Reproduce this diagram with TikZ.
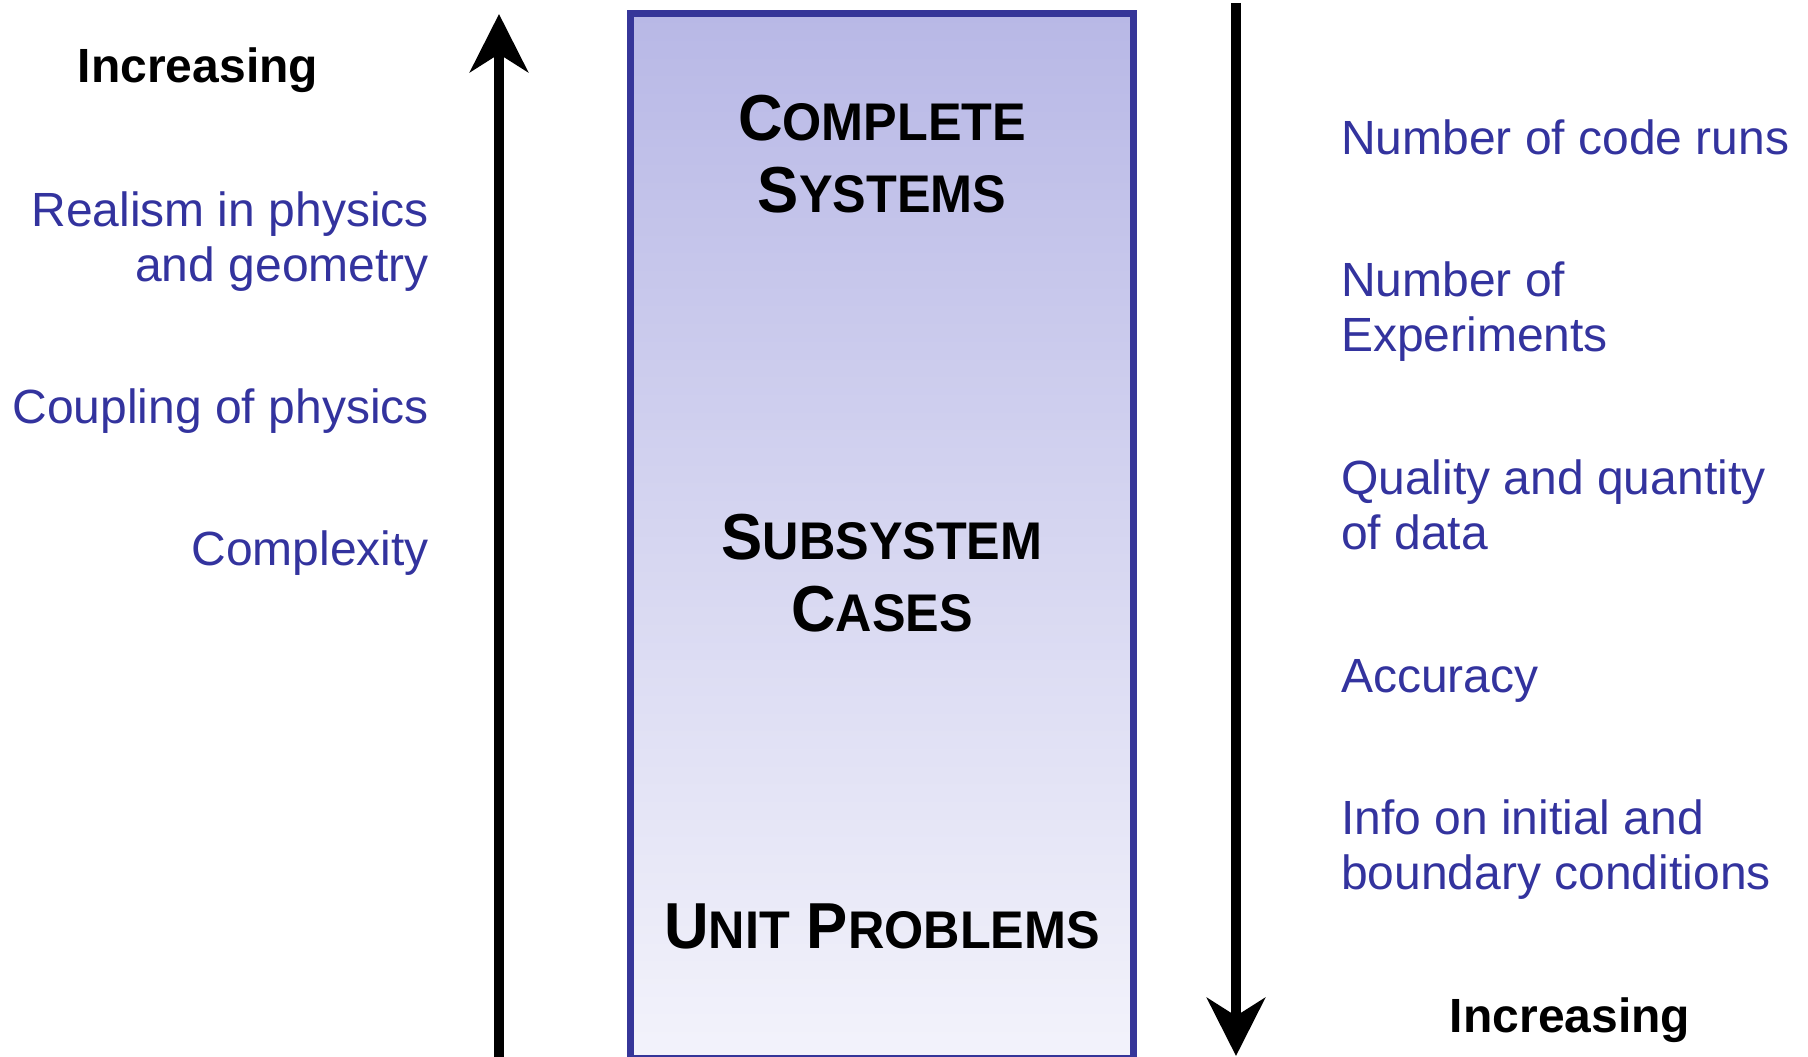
\documentclass[tikz,border=0pt]{standalone}
\usepackage{fontspec}
\setmainfont{Liberation Sans}
\newfontfamily\boxfont[FakeStretch=0.95]{Liberation Sans Bold}
\usetikzlibrary{arrows.meta}
\definecolor{txtblue}{RGB}{51,51,158}
\definecolor{boxblue}{RGB}{54,54,153}
\definecolor{boxtop}{RGB}{184,184,230}
\definecolor{boxbot}{RGB}{243,243,251}
\newcommand\mysc[2]{{\fontsize{65}{72}\selectfont #1}{\fontsize{53}{72}\selectfont #2}}
\tikzset{
  lefttxt/.style={anchor=base east, align=right, inner sep=0pt, text=txtblue, font=\fontsize{48}{55}\selectfont},
  righttxt/.style={anchor=base west, align=left, inner sep=0pt, text=txtblue, font=\fontsize{48}{55}\selectfont},
  inctxt/.style={anchor=base, inner sep=0pt, font=\fontsize{48}{55}\selectfont\bfseries},
  boxtxt/.style={anchor=base, align=center, inner sep=0pt, font=\boxfont\fontsize{65}{72}\selectfont},
  bigarrow/.style={line width=10pt, -{Stealth[length=58pt,width=58pt,inset=18pt]}}
}
\begin{document}
\begin{tikzpicture}[x=1pt,y=-1pt]
\useasboundingbox (0,0) rectangle (1808,1057);
% central box
\node[draw=boxblue, line width=7pt, top color=boxtop, bottom color=boxbot,
      minimum width=503pt, minimum height=1044pt, inner sep=0pt] (box) at (881.5,536) {};
% arrows
\coordinate (upS) at (499,1060);
\coordinate (upT) at (499,14);
\draw[bigarrow] (upS) -- (upT);
\coordinate (dnS) at (1236,3);
\coordinate (dnT) at (1236,1056);
\draw[bigarrow] (dnS) -- (dnT);
% box labels
\node[boxtxt] (cs) at (882,212) {\mysc{C}{OMPLETE}\\\mysc{S}{YSTEMS}};
\node[boxtxt] (sc) at (882,631) {\mysc{S}{UBSYSTEM}\\\mysc{C}{ASES}};
\node[boxtxt] (up) at (882,948) {\mysc{U}{NIT} \mysc{P}{ROBLEMS}};
% left column
\node[inctxt] (incL) at (198,83) {Increasing};
\node[lefttxt] (realism) at (429,281) {Realism in physics\\and geometry};
\node[lefttxt] (coupling) at (429,423) {Coupling of physics};
\node[lefttxt] (complexity) at (429,565) {Complexity};
% right column
\node[righttxt] (runs) at (1341,154) {Number of code runs};
\node[righttxt] (exps) at (1341,351) {Number of\\Experiments};
\node[righttxt] (quality) at (1341,549) {Quality and quantity\\of data};
\node[righttxt] (accuracy) at (1341,692) {Accuracy};
\node[righttxt] (info) at (1341,889) {Info on initial and\\boundary conditions};
\node[inctxt] (incR) at (1570,1032) {Increasing};
\end{tikzpicture}
\end{document}
